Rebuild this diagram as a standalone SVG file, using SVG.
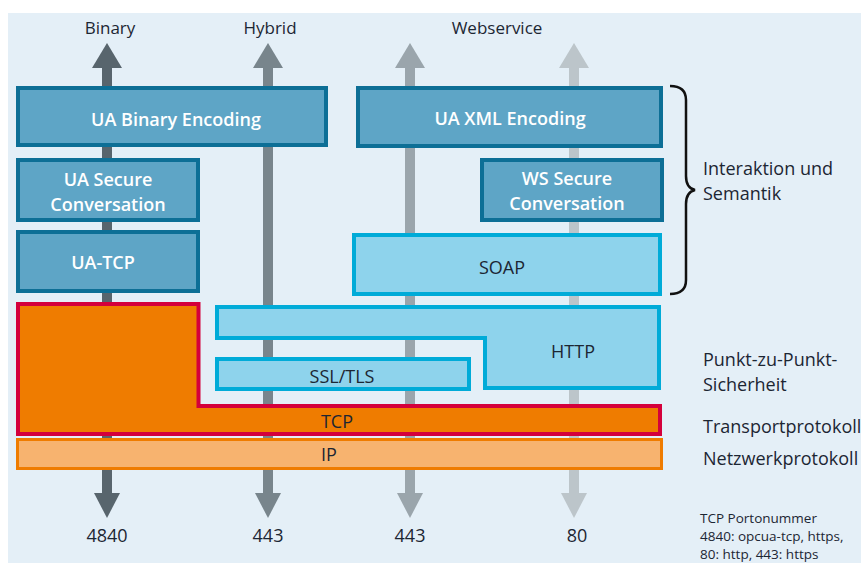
<svg xmlns="http://www.w3.org/2000/svg" width="861" height="563" viewBox="0 0 861 563">
<style>
.t{font-family:"Open Sans","Noto Sans","Liberation Sans",sans-serif;fill:#1c2633}
.w{font-family:"Open Sans","Noto Sans","Liberation Sans",sans-serif;fill:#ffffff;font-weight:600;font-size:18px;text-anchor:middle}
.d{font-family:"Open Sans","Noto Sans","Liberation Sans",sans-serif;fill:#1c2633;font-size:17px;font-weight:500;text-anchor:middle}
.n{font-family:"Open Sans","Noto Sans","Liberation Sans",sans-serif;fill:#1c2633;font-size:18px;font-weight:500;text-anchor:middle}
.dark{fill:#5ea5c6;stroke:#0d6f96;stroke-width:4}
.light{fill:#8ed3ec;stroke:#00abd8;stroke-width:4}
</style>
<rect x="0" y="0" width="861" height="563" fill="#ffffff"/>
<rect x="8" y="13" width="853" height="550" fill="#e4eff7"/>
<g id="connectors">
  <g fill="#58656d">
    <rect x="102" y="66" width="10" height="429"/>
    <polygon points="92,68 122,68 107,43"/>
    <polygon points="94,493 120,493 107,518"/>
  </g>
  <g fill="#78858c">
    <rect x="263" y="66" width="10" height="429"/>
    <polygon points="253,68 283,68 268,43"/>
    <polygon points="255,493 281,493 268,518"/>
  </g>
  <g fill="#9aa5ac">
    <rect x="405" y="66" width="10" height="429"/>
    <polygon points="395,68 425,68 410,43"/>
    <polygon points="397,493 423,493 410,518"/>
  </g>
  <g fill="#bcc5ca">
    <rect x="569" y="66" width="10" height="429"/>
    <polygon points="559,68 589,68 574,43"/>
    <polygon points="561,493 587,493 574,518"/>
  </g>
</g>
<g id="labels-top">
  <text class="d" x="110" y="34">Binary</text>
  <text class="d" x="270" y="34">Hybrid</text>
  <text class="d" x="497" y="34">Webservice</text>
</g>
<g id="ua-binary-encoding">
  <rect class="dark" x="18" y="88" width="308" height="57"/>
  <text class="w" x="176" y="126">UA Binary Encoding</text>
</g>
<g id="ua-xml-encoding">
  <rect class="dark" x="358" y="88" width="303" height="58"/>
  <text class="w" x="510" y="125">UA XML Encoding</text>
</g>
<g id="ua-secure-conversation">
  <rect class="dark" x="18" y="160" width="180" height="60"/>
  <text class="w" x="108" y="186">UA Secure</text>
  <text class="w" x="108" y="211">Conversation</text>
</g>
<g id="ua-tcp">
  <rect class="dark" x="18" y="232" width="180" height="59"/>
  <text class="w" x="103" y="269">UA-TCP</text>
</g>
<g id="ws-secure-conversation">
  <rect class="dark" x="482" y="160" width="180" height="60"/>
  <text class="w" x="567" y="185">WS Secure</text>
  <text class="w" x="567" y="210">Conversation</text>
</g>
<g id="soap">
  <rect class="light" x="354" y="235" width="306" height="59"/>
  <text class="n" x="502" y="274">SOAP</text>
</g>
<g id="http">
  <path class="light" d="M217,307 H659 V388 H485 V338 H217 Z"/>
  <text class="n" x="573" y="358">HTTP</text>
</g>
<g id="ssl-tls">
  <rect class="light" x="217" y="359" width="252" height="30"/>
  <text class="n" x="342" y="383">SSL/TLS</text>
</g>
<g id="tcp">
  <path d="M18,304 H198.5 V406 H660 V434 H18 Z" fill="#ef7c00" stroke="#d4003b" stroke-width="4"/>
  <text class="n" x="337" y="428">TCP</text>
</g>
<g id="ip">
  <rect x="17.5" y="439.5" width="644" height="29" fill="#f7b36f" stroke="#ef7c00" stroke-width="3"/>
  <text class="n" x="329" y="461">IP</text>
</g>
<g id="labels-bottom">
  <text class="n" x="107" y="542">4840</text>
  <text class="n" x="268" y="542">443</text>
  <text class="n" x="410" y="542">443</text>
  <text class="n" x="577" y="542">80</text>
</g>
<g id="brace">
  <path d="M670,86 Q686,86 686,100 V176 Q686,188 695,190 Q686,192 686,204 V280 Q686,294 670,294" fill="none" stroke="#111111" stroke-width="2.5"/>
</g>
<g id="right-labels" font-size="18">
  <text class="t" x="703" y="175">Interaktion und</text>
  <text class="t" x="703" y="200">Semantik</text>
  <text class="t" x="703" y="366">Punkt-zu-Punkt-</text>
  <text class="t" x="703" y="391">Sicherheit</text>
  <text class="t" x="703" y="433">Transportprotokoll</text>
  <text class="t" x="703" y="465">Netzwerkprotokoll</text>
</g>
<g id="note" font-size="13.5">
  <text class="t" x="700" y="523">TCP Portonummer</text>
  <text class="t" x="700" y="541">4840: opcua-tcp, https,</text>
  <text class="t" x="700" y="559">80: http, 443: https</text>
</g>
</svg>
